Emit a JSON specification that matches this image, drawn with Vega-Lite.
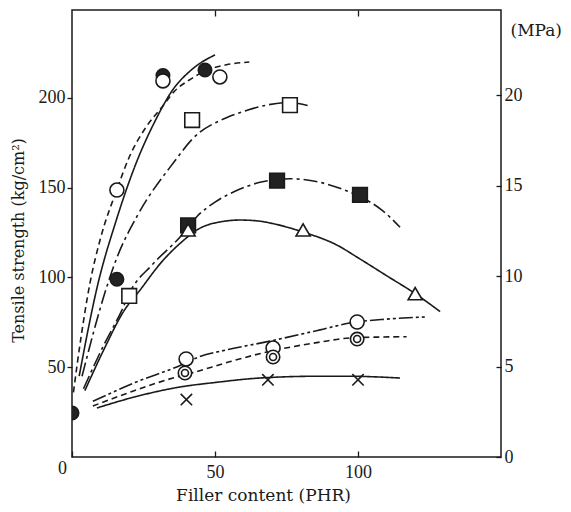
{
  "$schema": "https://vega.github.io/schema/vega-lite/v6.json",
  "autosize": {"type": "none"},
  "padding": {"left": 72, "top": 10, "right": 70, "bottom": 55},
  "width": 429,
  "height": 447,
  "background": "white",
  "config": {
    "view": {"stroke": "#1a1a1a", "strokeWidth": 1.5},
    "axis": {
      "domain": false,
      "grid": false,
      "tickColor": "#1a1a1a",
      "tickWidth": 1.3,
      "labelFont": "Liberation Serif",
      "labelFontSize": 18,
      "labelColor": "#1a1a1a",
      "titleFont": "DejaVu Serif",
      "titleFontSize": 17,
      "titleFontWeight": "normal",
      "titleColor": "#1a1a1a"
    }
  },
  "datasets": {
    "curves": [
      {"s": "A", "x": 2.5, "y": 45}, {"s": "A", "x": 9, "y": 96}, {"s": "A", "x": 15.5, "y": 132}, {"s": "A", "x": 22.5, "y": 164}, {"s": "A", "x": 29, "y": 187}, {"s": "A", "x": 35, "y": 204}, {"s": "A", "x": 42, "y": 216}, {"s": "A", "x": 50, "y": 224},
      {"s": "B", "x": 0.5, "y": 36}, {"s": "B", "x": 3, "y": 65}, {"s": "B", "x": 6.3, "y": 97}, {"s": "B", "x": 10, "y": 122}, {"s": "B", "x": 15.7, "y": 149}, {"s": "B", "x": 20, "y": 167}, {"s": "B", "x": 26, "y": 184}, {"s": "B", "x": 31.5, "y": 195}, {"s": "B", "x": 36, "y": 204}, {"s": "B", "x": 41, "y": 210}, {"s": "B", "x": 46.5, "y": 215}, {"s": "B", "x": 54, "y": 218.5}, {"s": "B", "x": 62, "y": 220},
      {"s": "C", "x": 3.5, "y": 45}, {"s": "C", "x": 12.2, "y": 95}, {"s": "C", "x": 15.7, "y": 111}, {"s": "C", "x": 22.7, "y": 134}, {"s": "C", "x": 36, "y": 165}, {"s": "C", "x": 42, "y": 177}, {"s": "C", "x": 54, "y": 189}, {"s": "C", "x": 61, "y": 193}, {"s": "C", "x": 68, "y": 196}, {"s": "C", "x": 76, "y": 197.5}, {"s": "C", "x": 83, "y": 195.5},
      {"s": "D", "x": 4, "y": 38}, {"s": "D", "x": 11, "y": 62}, {"s": "D", "x": 17.5, "y": 82}, {"s": "D", "x": 20.3, "y": 92}, {"s": "D", "x": 28, "y": 107}, {"s": "D", "x": 37.8, "y": 122.6}, {"s": "D", "x": 43.7, "y": 134}, {"s": "D", "x": 50, "y": 142}, {"s": "D", "x": 57, "y": 148}, {"s": "D", "x": 65.7, "y": 153}, {"s": "D", "x": 76, "y": 155}, {"s": "D", "x": 86.7, "y": 153}, {"s": "D", "x": 94.8, "y": 149}, {"s": "D", "x": 100.7, "y": 145}, {"s": "D", "x": 108, "y": 138}, {"s": "D", "x": 114.7, "y": 128},
      {"s": "E", "x": 4.5, "y": 37}, {"s": "E", "x": 11.5, "y": 61}, {"s": "E", "x": 18, "y": 81}, {"s": "E", "x": 23.8, "y": 93}, {"s": "E", "x": 31, "y": 108}, {"s": "E", "x": 38.5, "y": 120}, {"s": "E", "x": 44.8, "y": 127.5}, {"s": "E", "x": 52, "y": 131}, {"s": "E", "x": 58.7, "y": 132}, {"s": "E", "x": 65, "y": 131.5}, {"s": "E", "x": 70.3, "y": 130}, {"s": "E", "x": 80.4, "y": 125.5}, {"s": "E", "x": 92.7, "y": 118}, {"s": "E", "x": 100, "y": 111}, {"s": "E", "x": 110, "y": 101}, {"s": "E", "x": 120, "y": 91}, {"s": "E", "x": 128.7, "y": 81},
      {"s": "F", "x": 7.3, "y": 31}, {"s": "F", "x": 22, "y": 41.5}, {"s": "F", "x": 37.8, "y": 51}, {"s": "F", "x": 44, "y": 55.5}, {"s": "F", "x": 55, "y": 60}, {"s": "F", "x": 67.5, "y": 64}, {"s": "F", "x": 86.7, "y": 70.8}, {"s": "F", "x": 97, "y": 74.6}, {"s": "F", "x": 110, "y": 76.8}, {"s": "F", "x": 123.4, "y": 78},
      {"s": "G", "x": 7.3, "y": 28.4}, {"s": "G", "x": 21, "y": 36.5}, {"s": "G", "x": 35.3, "y": 44}, {"s": "G", "x": 42.3, "y": 47}, {"s": "G", "x": 55, "y": 53}, {"s": "G", "x": 66.8, "y": 58}, {"s": "G", "x": 86.7, "y": 64}, {"s": "G", "x": 97, "y": 66.3}, {"s": "G", "x": 107, "y": 66.8}, {"s": "G", "x": 117, "y": 67},
      {"s": "H", "x": 8.7, "y": 27.3}, {"s": "H", "x": 22, "y": 33.5}, {"s": "H", "x": 37.8, "y": 39}, {"s": "H", "x": 50, "y": 41.5}, {"s": "H", "x": 65.7, "y": 44}, {"s": "H", "x": 86.7, "y": 45}, {"s": "H", "x": 97, "y": 45}, {"s": "H", "x": 105, "y": 44.7}, {"s": "H", "x": 114.7, "y": 44}
    ],
    "points": [
      {"m": "filled circle", "x": 0, "y": 24.5},
      {"m": "filled circle", "x": 15.7, "y": 99},
      {"m": "filled circle", "x": 31.8, "y": 212.5},
      {"m": "filled circle", "x": 46.5, "y": 215.6},
      {"m": "open circle", "x": 15.7, "y": 148.7},
      {"m": "open circle", "x": 31.8, "y": 209.5},
      {"m": "open circle", "x": 51.7, "y": 211.7},
      {"m": "open square", "x": 20, "y": 89.7},
      {"m": "open square", "x": 42, "y": 187.7},
      {"m": "open square", "x": 76.2, "y": 196},
      {"m": "filled square", "x": 40.6, "y": 129},
      {"m": "filled square", "x": 71.7, "y": 154},
      {"m": "filled square", "x": 100.7, "y": 146},
      {"m": "triangle", "x": 40.6, "y": 126.5},
      {"m": "triangle", "x": 80.8, "y": 126.5},
      {"m": "triangle", "x": 120, "y": 91},
      {"m": "open circle", "x": 39.9, "y": 54.6},
      {"m": "open circle", "x": 70.3, "y": 60.7},
      {"m": "open circle", "x": 99.7, "y": 75.2},
      {"m": "double circle", "x": 39.5, "y": 46.8},
      {"m": "double circle", "x": 70.3, "y": 55.7},
      {"m": "double circle", "x": 99.7, "y": 65.7},
      {"m": "double circle inner", "x": 39.5, "y": 46.8},
      {"m": "double circle inner", "x": 70.3, "y": 55.7},
      {"m": "double circle inner", "x": 99.7, "y": 65.7},
      {"m": "cross", "x": 40, "y": 32},
      {"m": "cross", "x": 68.5, "y": 43},
      {"m": "cross", "x": 100, "y": 43}
    ],
    "mpa": [{"v": 0}]
  },
  "resolve": {"scale": {"y": "independent"}, "axis": {"x": "independent", "y": "independent"}},
  "layer": [
    {
      "data": {"name": "curves"},
      "mark": {"type": "line", "interpolate": "monotone", "stroke": "#1a1a1a", "strokeWidth": 1.6, "clip": true},
      "encoding": {
        "x": {
          "field": "x", "type": "quantitative",
          "scale": {"domain": [0, 150], "nice": false, "zero": false},
          "axis": {
            "orient": "bottom", "values": [0, 50, 100], "tickSize": -6,
            "labelPadding": {"condition": {"test": "datum.value === 0", "value": 8}, "value": 12},
            "labelOffset": {"condition": {"test": "datum.value === 0", "value": -10}, "value": 0},
            "labelFlush": false,
            "title": "Filler content (PHR)", "titleX": 191, "titleY": 38, "titleBaseline": "middle", "titleAlign": "center"
          }
        },
        "y": {
          "field": "y", "type": "quantitative",
          "scale": {"domain": [0, 249], "nice": false, "zero": false},
          "axis": {
            "orient": "left", "values": [50, 100, 150, 200], "tickSize": 5, "labelPadding": 2,
            "title": "Tensile strength (kg/cm²)", "titleX": -54, "titleY": 230, "titleAngle": -90, "titleBaseline": "middle", "titleAlign": "center", "titleFontSize": 16
          }
        },
        "detail": {"field": "s"},
        "strokeDash": {
          "field": "s", "type": "nominal", "legend": null,
          "scale": {"domain": ["A", "B", "C", "D", "E", "F", "G", "H"],
                    "range": [[1, 0], [6, 4], [14, 4, 3, 4], [14, 4, 3, 4], [1, 0], [14, 3, 3, 3, 3, 3], [6, 4], [1, 0]]}
        }
      }
    },
    {
      "data": {"name": "points"},
      "mark": {"type": "point", "filled": true, "stroke": "#1a1a1a", "strokeWidth": 1.6, "opacity": 1, "clip": true},
      "encoding": {
        "x": {
          "field": "x", "type": "quantitative",
          "scale": {"domain": [0, 150], "nice": false, "zero": false},
          "axis": {"orient": "top", "values": [50, 100], "tickSize": -6, "labels": false, "title": null}
        },
        "y": {
          "field": "y", "type": "quantitative",
          "scale": {"domain": [0, 249], "nice": false, "zero": false},
          "axis": null
        },
        "shape": {
          "field": "m", "type": "nominal", "legend": null,
          "scale": {"domain": ["filled circle", "open circle", "open square", "filled square", "triangle", "double circle", "double circle inner", "cross"],
                    "range": ["circle", "circle", "square", "square", "triangle-up", "circle", "circle", "M-1,-1L1,1M1,-1L-1,1"]}
        },
        "fill": {
          "field": "m", "type": "nominal", "legend": null,
          "scale": {"domain": ["filled circle", "open circle", "open square", "filled square", "triangle", "double circle", "double circle inner", "cross"],
                    "range": ["#222222", "white", "white", "#222222", "white", "white", "white", "white"]}
        },
        "size": {
          "field": "m", "type": "nominal", "legend": null,
          "scale": {"type": "ordinal", "domain": ["filled circle", "open circle", "open square", "filled square", "triangle", "double circle", "double circle inner", "cross"],
                    "range": [180, 196, 215, 215, 200, 180, 49, 130]}
        }
      }
    },
    {
      "data": {"name": "mpa"},
      "mark": {"type": "point", "opacity": 0},
      "encoding": {
        "x": {"value": 0},
        "y": {
          "field": "v", "type": "quantitative",
          "scale": {"domain": [0, 24.7], "nice": false, "zero": false},
          "axis": {
            "orient": "right", "values": [0, 5, 10, 15, 20], "tickSize": -5, "labelPadding": 8,
            "title": "(MPa)", "titleAngle": 0, "titleAlign": "left", "titleX": 9, "titleY": 20, "titleBaseline": "middle", "titleFont": "DejaVu Serif", "titleFontSize": 17
          }
        }
      }
    }
  ]
}
